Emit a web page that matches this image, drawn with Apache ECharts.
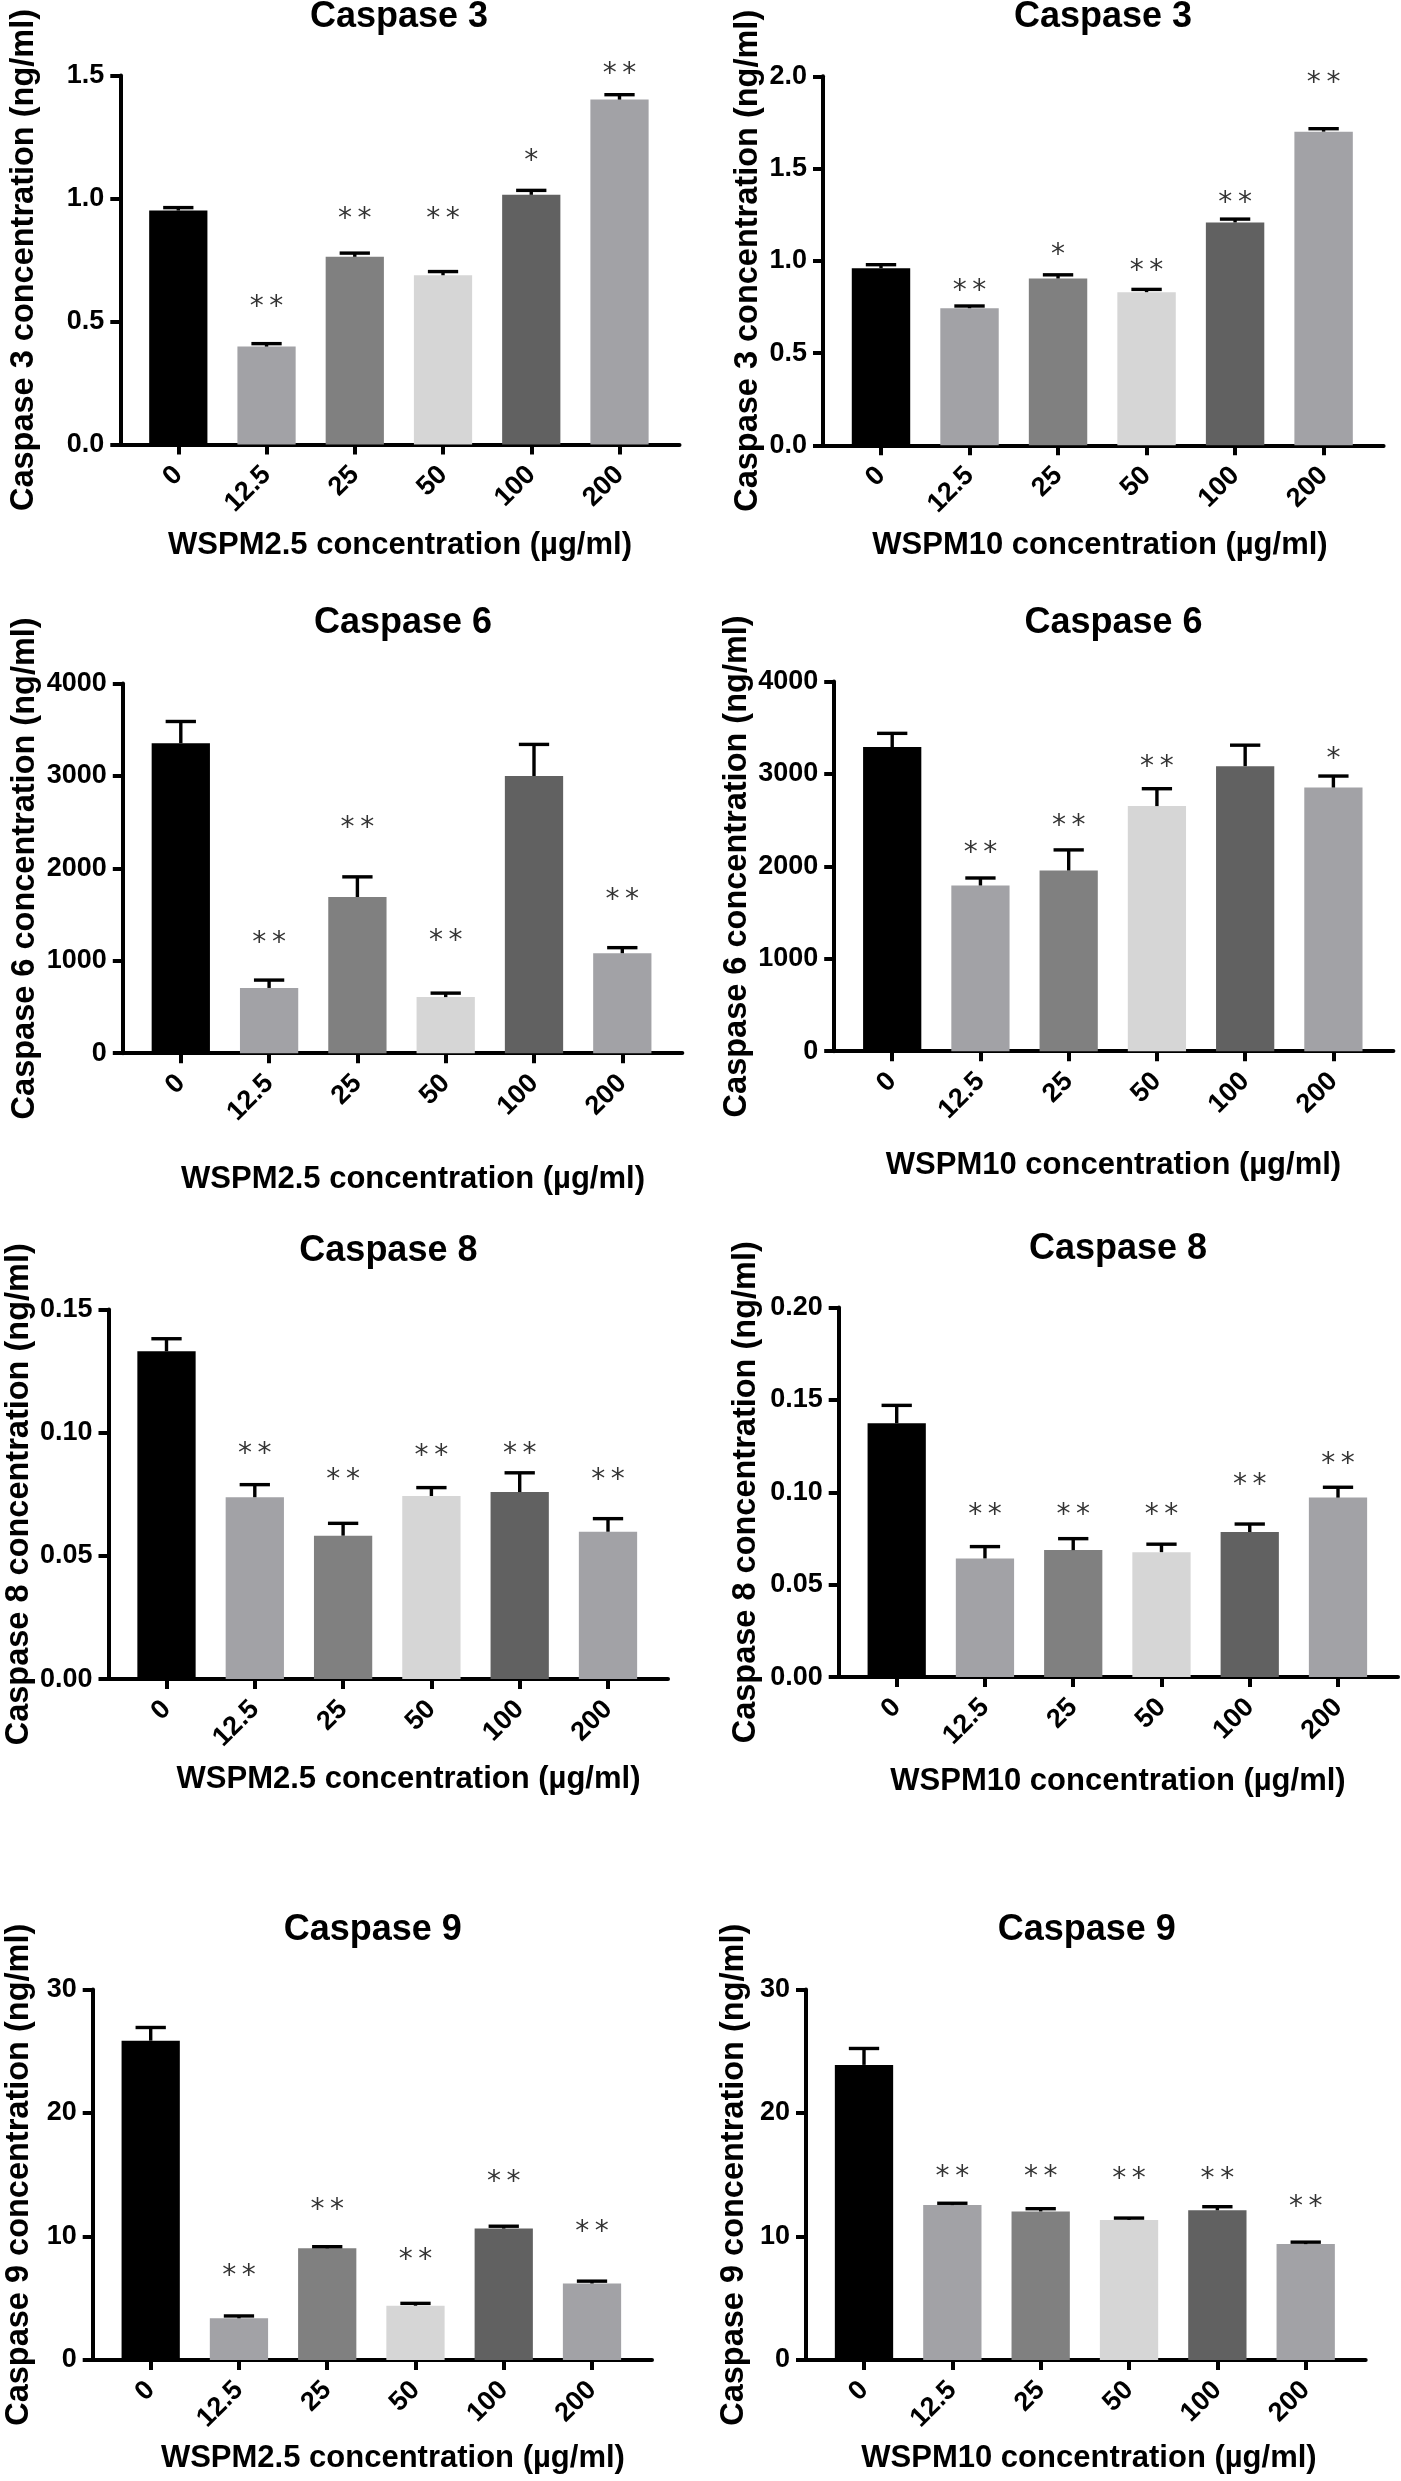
<!DOCTYPE html>
<html><head><meta charset="utf-8">
<script src="https://cdn.jsdelivr.net/npm/echarts@6/dist/echarts.min.js"></script>
<style>html,body{margin:0;padding:0;background:#fff}#c{width:1401px;height:2481px}</style>
</head><body><div id="c"></div>
<script>
// ---------- data ----------
const categories = ['0', '12.5', '25', '50', '100', '200'];

// Caspase 3 – WSPM2.5
const casp3_pm25_mean = [0.951, 0.398, 0.763, 0.688, 1.015, 1.402];
const casp3_pm25_sem  = [0.012, 0.012, 0.015, 0.015, 0.018, 0.020];
const casp3_pm25_sig  = ['', '**', '**', '**', '*', '**'];
const casp3_pm25_sigPos = [null, 0.581, 0.937, 0.937, 1.174, 1.528];
const casp3_pm25_ticks = ['0.0', '0.5', '1.0', '1.5'];

// Caspase 3 – WSPM10
const casp3_pm10_mean = [0.960, 0.743, 0.904, 0.830, 1.208, 1.700];
const casp3_pm10_sem  = [0.019, 0.012, 0.020, 0.015, 0.018, 0.016];
const casp3_pm10_sig  = ['', '**', '*', '**', '**', '**'];
const casp3_pm10_sigPos = [null, 0.867, 1.058, 0.971, 1.344, 1.990];
const casp3_pm10_ticks = ['0.0', '0.5', '1.0', '1.5', '2.0'];

// Caspase 6 – WSPM2.5
const casp6_pm25_mean = [3354, 706, 1690, 607, 2999, 1082];
const casp6_pm25_sem  = [235, 85, 218, 43, 342, 60];
const casp6_pm25_sig  = ['', '**', '**', '**', '', '**'];
const casp6_pm25_sigPos = [null, 1249, 2490, 1271, null, 1720];
const casp6_pm25_ticks = ['0', '1000', '2000', '3000', '4000'];

// Caspase 6 – WSPM10
const casp6_pm10_mean = [3290, 1793, 1955, 2652, 3084, 2853];
const casp6_pm10_sem  = [149, 81, 223, 188, 227, 124];
const casp6_pm10_sig  = ['', '**', '**', '**', '', '*'];
const casp6_pm10_sigPos = [null, 2197, 2490, 3131, null, 3216];
const casp6_pm10_ticks = ['0', '1000', '2000', '3000', '4000'];

// Caspase 8 – WSPM2.5
const casp8_pm25_mean = [0.1330, 0.0738, 0.0582, 0.0743, 0.0759, 0.0598];
const casp8_pm25_sem  = [0.0051, 0.0051, 0.0050, 0.0034, 0.0078, 0.0053];
const casp8_pm25_sig  = ['', '**', '**', '**', '**', '**'];
const casp8_pm25_sigPos = [null, 0.0934, 0.0829, 0.0926, 0.0934, 0.0829];
const casp8_pm25_ticks = ['0.00', '0.05', '0.10', '0.15'];

// Caspase 8 – WSPM10
const casp8_pm10_mean = [0.1373, 0.0642, 0.0687, 0.0676, 0.0785, 0.0971];
const casp8_pm10_sem  = [0.0097, 0.0064, 0.0062, 0.0043, 0.0043, 0.0056];
const casp8_pm10_sig  = ['', '**', '**', '**', '**', '**'];
const casp8_pm10_sigPos = [null, 0.0907, 0.0907, 0.0907, 0.1067, 0.1181];
const casp8_pm10_ticks = ['0.00', '0.05', '0.10', '0.15', '0.20'];

// Caspase 9 – WSPM2.5
const casp9_pm25_mean = [25.86, 3.37, 9.04, 4.39, 10.64, 6.19];
const casp9_pm25_sem  = [1.07, 0.19, 0.13, 0.19, 0.19, 0.19];
const casp9_pm25_sig  = ['', '**', '**', '**', '**', '**'];
const casp9_pm25_sigPos = [null, 7.23, 12.55, 8.50, 14.81, 10.8];
const casp9_pm25_ticks = ['0', '10', '20', '30'];

// Caspase 9 – WSPM10
const casp9_pm10_mean = [23.90, 12.54, 12.03, 11.34, 12.12, 9.38];
const casp9_pm10_sem  = [1.33, 0.15, 0.22, 0.15, 0.29, 0.16];
const casp9_pm10_sig  = ['', '**', '**', '**', '**', '**'];
const casp9_pm10_sigPos = [null, 15.28, 15.28, 15.12, 15.12, 12.79];
const casp9_pm10_ticks = ['0', '10', '20', '30'];

const xName25 = 'WSPM2.5 concentration (µg/ml)';
const xName10 = 'WSPM10 concentration (µg/ml)';

const panels = [
  {title: 'Caspase 3', yName: 'Caspase 3 concentration (ng/ml)', xName: xName25, mean: casp3_pm25_mean, sem: casp3_pm25_sem, sig: casp3_pm25_sig, sigPos: casp3_pm25_sigPos, ticks: casp3_pm25_ticks, max: 1.5, step: 0.5},
  {title: 'Caspase 3', yName: 'Caspase 3 concentration (ng/ml)', xName: xName10, mean: casp3_pm10_mean, sem: casp3_pm10_sem, sig: casp3_pm10_sig, sigPos: casp3_pm10_sigPos, ticks: casp3_pm10_ticks, max: 2.0, step: 0.5},
  {title: 'Caspase 6', yName: 'Caspase 6 concentration (ng/ml)', xName: xName25, mean: casp6_pm25_mean, sem: casp6_pm25_sem, sig: casp6_pm25_sig, sigPos: casp6_pm25_sigPos, ticks: casp6_pm25_ticks, max: 4000, step: 1000},
  {title: 'Caspase 6', yName: 'Caspase 6 concentration (ng/ml)', xName: xName10, mean: casp6_pm10_mean, sem: casp6_pm10_sem, sig: casp6_pm10_sig, sigPos: casp6_pm10_sigPos, ticks: casp6_pm10_ticks, max: 4000, step: 1000},
  {title: 'Caspase 8', yName: 'Caspase 8 concentration (ng/ml)', xName: xName25, mean: casp8_pm25_mean, sem: casp8_pm25_sem, sig: casp8_pm25_sig, sigPos: casp8_pm25_sigPos, ticks: casp8_pm25_ticks, max: 0.15, step: 0.05},
  {title: 'Caspase 8', yName: 'Caspase 8 concentration (ng/ml)', xName: xName10, mean: casp8_pm10_mean, sem: casp8_pm10_sem, sig: casp8_pm10_sig, sigPos: casp8_pm10_sigPos, ticks: casp8_pm10_ticks, max: 0.20, step: 0.05},
  {title: 'Caspase 9', yName: 'Caspase 9 concentration (ng/ml)', xName: xName25, mean: casp9_pm25_mean, sem: casp9_pm25_sem, sig: casp9_pm25_sig, sigPos: casp9_pm25_sigPos, ticks: casp9_pm25_ticks, max: 30, step: 10},
  {title: 'Caspase 9', yName: 'Caspase 9 concentration (ng/ml)', xName: xName10, mean: casp9_pm10_mean, sem: casp9_pm10_sem, sig: casp9_pm10_sig, sigPos: casp9_pm10_sigPos, ticks: casp9_pm10_ticks, max: 30, step: 10}
];

// ---------- layout & style ----------
const barColors = ['#000000', '#a2a2a6', '#808080', '#d6d6d6', '#616161', '#a2a2a6'];
const layout = [
  {c0: 178.3, c5: 619.5, top: 75.5, zero: 444.5, tx: 399, ty: 17, xx: 400, xy: 545, nameGap: 80},
  {c0: 881, c5: 1323.6, top: 76.3, zero: 445.3, tx: 1103, ty: 17, xx: 1100, xy: 545, nameGap: 58},
  {c0: 180.8, c5: 622.3, top: 683.5, zero: 1053.2, tx: 403, ty: 623.4, xx: 413, xy: 1179, nameGap: 81},
  {c0: 892.2, c5: 1333.4, top: 681.5, zero: 1051.2, tx: 1113.5, ty: 623.4, xx: 1113.5, xy: 1165, nameGap: 81},
  {c0: 166.5, c5: 608, top: 1309.4, zero: 1679.1, tx: 388.4, ty: 1251.3, xx: 408.5, xy: 1779, nameGap: 73},
  {c0: 896.7, c5: 1338, top: 1307.4, zero: 1677.1, tx: 1118, ty: 1249.3, xx: 1118, xy: 1781, nameGap: 76},
  {c0: 150.7, c5: 592, top: 1989.6, zero: 2359.9, tx: 372.8, ty: 1930.4, xx: 392.9, xy: 2458.5, nameGap: 57},
  {c0: 864, c5: 1305.7, top: 1989.6, zero: 2359.9, tx: 1086.7, ty: 1930.4, xx: 1089, xy: 2458.5, nameGap: 55}
];
const FONT = '"Liberation Sans", Arial, Helvetica, sans-serif';
const W = 1401, H = 2481;

const grids = [], xAxes = [], yAxes = [], series = [], graphics = [];

panels.forEach((p, k) => {
  const L = layout[k];
  const sp = (L.c5 - L.c0) / 5;
  const axisX = L.c0 - 58, axisEnd = L.c5 + 60;
  const gB = grids.length;
  grids.push({left: axisX, right: W - axisEnd, top: L.top, bottom: H - L.zero});
  grids.push({left: L.c0 - sp / 2, right: W - (L.c5 + sp / 2), top: L.top, bottom: H - L.zero});

  xAxes.push({gridIndex: gB, type: 'value', min: 0, max: 1,
    axisLine: {show: true, onZero: false, lineStyle: {color: '#000', width: 4}},
    axisTick: {show: false}, axisLabel: {show: false}, splitLine: {show: false}});
  xAxes.push({gridIndex: gB + 1, type: 'category', data: categories,
    axisLine: {show: false},
    axisTick: {show: true, alignWithLabel: true, interval: 0, length: 10, lineStyle: {color: '#000', width: 4}},
    axisLabel: {interval: 0, rotate: 45, margin: 26, fontSize: 27, fontWeight: 'bold', color: '#000', fontFamily: FONT},
    splitLine: {show: false}});

  yAxes.push({gridIndex: gB, type: 'value', min: 0, max: p.max, interval: p.step,
    axisLine: {show: true, onZero: false, lineStyle: {color: '#000', width: 4}},
    axisTick: {show: true, length: 10, lineStyle: {color: '#000', width: 4}},
    axisLabel: {margin: 16, fontSize: 27, fontWeight: 'bold', color: '#000', fontFamily: FONT,
      formatter: v => p.ticks[Math.round(v / p.step)]},
    splitLine: {show: false},
    name: p.yName, nameLocation: 'middle', nameGap: L.nameGap,
    nameTextStyle: {fontSize: 32.5, fontWeight: 'bold', color: '#000', fontFamily: FONT}});
  yAxes.push({gridIndex: gB + 1, type: 'value', min: 0, max: p.max, show: false});

  series.push({type: 'bar', xAxisIndex: gB + 1, yAxisIndex: gB + 1, barCategoryGap: '34%', silent: true,
    data: p.mean.map((v, i) => ({value: v, itemStyle: {color: barColors[i]}}))});

  series.push({type: 'custom', xAxisIndex: gB + 1, yAxisIndex: gB + 1, z: 5, silent: true,
    data: p.mean.map((v, i) => [i, v, p.sem[i]]),
    encode: {x: 0, y: 1},
    renderItem: (params, api) => {
      const i = api.value(0), m = api.value(1), e = api.value(2);
      const b = api.coord([i, m]);
      const t = api.coord([i, m + e]);
      const hw = api.size([1, 0])[0] * 0.66 * 0.26;
      const st = {stroke: '#000', lineWidth: 3.4};
      return {type: 'group', children: [
        {type: 'line', shape: {x1: b[0], y1: b[1], x2: t[0], y2: t[1]}, style: st},
        {type: 'line', shape: {x1: t[0] - hw, y1: t[1], x2: t[0] + hw, y2: t[1]}, style: st}
      ]};
    }});

  const starData = [];
  p.sig.forEach((s, i) => { if (s) starData.push([i, p.sigPos[i]]); });
  series.push({type: 'scatter', xAxisIndex: gB + 1, yAxisIndex: gB + 1, symbolSize: 1, clip: false, silent: true,
    itemStyle: {color: 'rgba(0,0,0,0)'},
    data: starData,
    label: {show: true, position: 'inside', offset: [0, 6], fontSize: 28, color: '#000',
      fontFamily: '"DejaVu Sans", sans-serif',
      formatter: prm => p.sig[prm.value[0]].split('').join('\u2009')}});

  graphics.push({type: 'text', x: L.tx, y: L.ty, silent: true,
    style: {text: p.title, fontSize: 36, fontWeight: 'bold', fontFamily: FONT, fill: '#000',
      align: 'center', verticalAlign: 'middle', textAlign: 'center', textVerticalAlign: 'middle'}});
  graphics.push({type: 'text', x: L.xx, y: L.xy, silent: true,
    style: {text: p.xName, fontSize: 31, fontWeight: 'bold', fontFamily: FONT, fill: '#000',
      align: 'center', verticalAlign: 'middle', textAlign: 'center', textVerticalAlign: 'middle'}});
});

const chart = echarts.init(document.getElementById('c'), null, {renderer: 'canvas', width: W, height: H});
chart.setOption({
  animation: false,
  backgroundColor: '#ffffff',
  grid: grids, xAxis: xAxes, yAxis: yAxes, series: series, graphic: graphics
});
</script>
</body></html>
